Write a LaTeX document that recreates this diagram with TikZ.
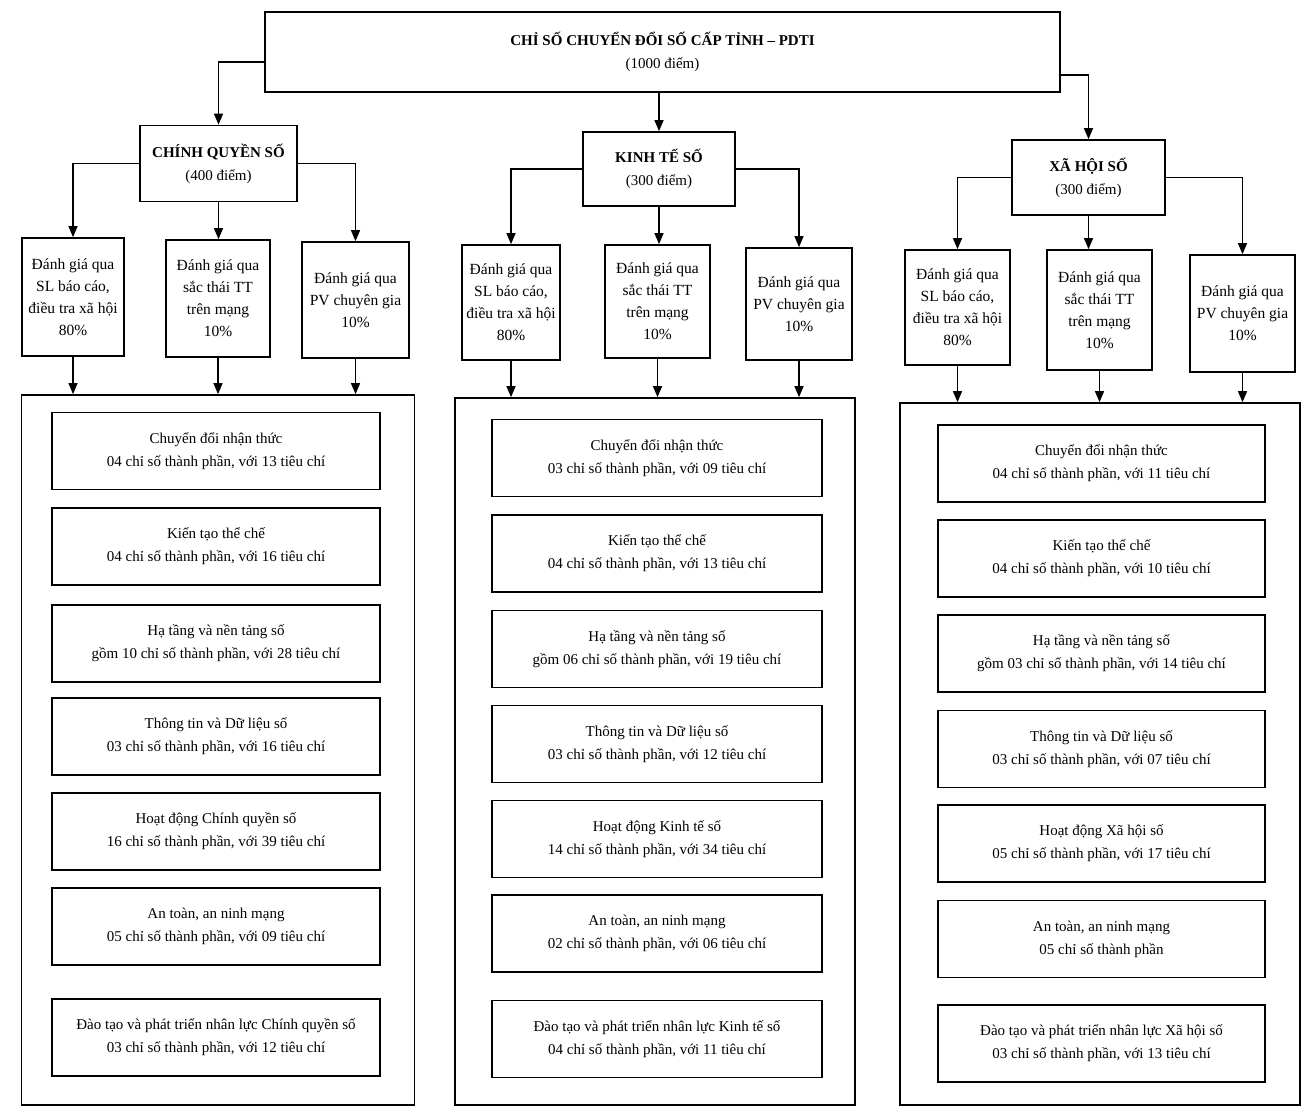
\documentclass[tikz,border=0pt]{standalone}
\usepackage{fontspec}
\setmainfont{Liberation Serif}
\usetikzlibrary{arrows.meta}
\tikzset{
  every node/.style={font=\fontsize{15}{23}\selectfont},
  frame/.style={draw=black, line width=1.7pt, inner sep=0pt, align=center},
  headbox/.style={frame, font=\fontsize{15}{23}\selectfont},
  subbox/.style={frame, font=\fontsize{15.5}{22}\selectfont},
  itembox/.style={frame, minimum height=77pt, font=\fontsize{15}{23}\selectfont},
  bigbox/.style={draw=black, line width=1.7pt, inner sep=0pt},
  arr/.style={draw=black, line width=1.3pt, -{Triangle[length=11pt,width=9pt]}}
}
\begin{document}
\begin{tikzpicture}[x=1pt,y=-1pt]
\useasboundingbox (0,0) rectangle (1308,1110);

% top
\node[headbox, minimum width=795pt, minimum height=80pt] (top) at (662.5,52)
  {\textbf{CHỈ SỐ CHUYỂN ĐỔI SỐ CẤP TỈNH – PDTI}\\(1000 điểm)};

% level 2
\node[headbox, minimum width=157pt, minimum height=76pt] (cq) at (218.5,163.5)
  {\textbf{CHÍNH QUYỀN SỐ}\\(400 điểm)};
\node[headbox, minimum width=152pt, minimum height=74pt] (kt) at (659,169)
  {\textbf{KINH TẾ SỐ}\\(300 điểm)};
\node[headbox, minimum width=153pt, minimum height=75pt] (xh) at (1088.5,177.5)
  {\textbf{XÃ HỘI SỐ}\\(300 điểm)};

% level 3
\node[subbox, minimum width=102pt, minimum height=118pt] (a1) at (73,297)
  {Đánh giá qua\\SL báo cáo,\\điều tra xã hội\\80\%};
\node[subbox, minimum width=104pt, minimum height=117pt] (a2) at (218,298.5)
  {Đánh giá qua\\sắc thái TT\\trên mạng\\10\%};
\node[subbox, minimum width=107pt, minimum height=116pt] (a3) at (355.5,300)
  {Đánh giá qua\\PV chuyên gia\\10\%};

\node[subbox, minimum width=98pt, minimum height=115pt] (b1) at (511,302.5)
  {Đánh giá qua\\SL báo cáo,\\điều tra xã hội\\80\%};
\node[subbox, minimum width=105pt, minimum height=113pt] (b2) at (657.5,301.5)
  {Đánh giá qua\\sắc thái TT\\trên mạng\\10\%};
\node[subbox, minimum width=106pt, minimum height=112pt] (b3) at (799,304)
  {Đánh giá qua\\PV chuyên gia\\10\%};

\node[subbox, minimum width=105pt, minimum height=115pt] (c1) at (957.5,307.5)
  {Đánh giá qua\\SL báo cáo,\\điều tra xã hội\\80\%};
\node[subbox, minimum width=105pt, minimum height=120pt] (c2) at (1099.5,310)
  {Đánh giá qua\\sắc thái TT\\trên mạng\\10\%};
\node[subbox, minimum width=105pt, minimum height=117pt] (c3) at (1242.5,313.5)
  {Đánh giá qua\\PV chuyên gia\\10\%};

% big containers
\node[bigbox, minimum width=393pt, minimum height=710pt] (A) at (218,750) {};
\node[bigbox, minimum width=400pt, minimum height=707pt] (B) at (655,751.5) {};
\node[bigbox, minimum width=400pt, minimum height=702pt] (C) at (1100,754) {};

% items A
\node[itembox, minimum width=328pt] (a11) at (216,451) {Chuyển đổi nhận thức\\04 chỉ số thành phần, với 13 tiêu chí};
\node[itembox, minimum width=328pt] (a12) at (216,546.5) {Kiến tạo thể chế\\04 chỉ số thành phần, với 16 tiêu chí};
\node[itembox, minimum width=328pt] (a13) at (216,643.5) {Hạ tầng và nền tảng số\\gồm 10 chỉ số thành phần, với 28 tiêu chí};
\node[itembox, minimum width=328pt] (a14) at (216,736.5) {Thông tin và Dữ liệu số\\03 chỉ số thành phần, với 16 tiêu chí};
\node[itembox, minimum width=328pt] (a15) at (216,831.5) {Hoạt động Chính quyền số\\16 chỉ số thành phần, với 39 tiêu chí};
\node[itembox, minimum width=328pt] (a16) at (216,926.5) {An toàn, an ninh mạng\\05 chỉ số thành phần, với 09 tiêu chí};
\node[itembox, minimum width=328pt] (a17) at (216,1037.5) {Đào tạo và phát triển nhân lực Chính quyền số\\03 chỉ số thành phần, với 12 tiêu chí};

% items B
\node[itembox, minimum width=330pt] (b11) at (657,458) {Chuyển đổi nhận thức\\03 chỉ số thành phần, với 09 tiêu chí};
\node[itembox, minimum width=330pt] (b12) at (657,553.5) {Kiến tạo thể chế\\04 chỉ số thành phần, với 13 tiêu chí};
\node[itembox, minimum width=330pt] (b13) at (657,649) {Hạ tầng và nền tảng số\\gồm 06 chỉ số thành phần, với 19 tiêu chí};
\node[itembox, minimum width=330pt] (b14) at (657,744) {Thông tin và Dữ liệu số\\03 chỉ số thành phần, với 12 tiêu chí};
\node[itembox, minimum width=330pt] (b15) at (657,839) {Hoạt động Kinh tế số\\14 chỉ số thành phần, với 34 tiêu chí};
\node[itembox, minimum width=330pt] (b16) at (657,933.5) {An toàn, an ninh mạng\\02 chỉ số thành phần, với 06 tiêu chí};
\node[itembox, minimum width=330pt] (b17) at (657,1039) {Đào tạo và phát triển nhân lực Kinh tế số\\04 chỉ số thành phần, với 11 tiêu chí};

% items C
\node[itembox, minimum width=327pt] (c11) at (1101.5,463.5) {Chuyển đổi nhận thức\\04 chỉ số thành phần, với 11 tiêu chí};
\node[itembox, minimum width=327pt] (c12) at (1101.5,558.5) {Kiến tạo thể chế\\04 chỉ số thành phần, với 10 tiêu chí};
\node[itembox, minimum width=327pt] (c13) at (1101.5,653.5) {Hạ tầng và nền tảng số\\gồm 03 chỉ số thành phần, với 14 tiêu chí};
\node[itembox, minimum width=327pt] (c14) at (1101.5,749) {Thông tin và Dữ liệu số\\03 chỉ số thành phần, với 07 tiêu chí};
\node[itembox, minimum width=327pt] (c15) at (1101.5,843.5) {Hoạt động Xã hội số\\05 chỉ số thành phần, với 17 tiêu chí};
\node[itembox, minimum width=327pt] (c16) at (1101.5,939) {An toàn, an ninh mạng\\05 chỉ số thành phần};
\node[itembox, minimum width=327pt] (c17) at (1101.5,1043.5) {Đào tạo và phát triển nhân lực Xã hội số\\03 chỉ số thành phần, với 13 tiêu chí};

% connectors level 1 -> 2
\draw[arr] ([yshift=-10pt]top.west) -| (cq.north);
\draw[arr] (kt.north |- top.south) -- (kt.north);
\draw[arr] ([yshift=-23pt]top.east) -| (xh.north);

% level 2 -> 3
\draw[arr] (cq.west) -| (a1.north);
\draw[arr] (cq.south) -- (cq.south |- a2.north);
\draw[arr] (cq.east) -| (a3.north);
\draw[arr] (kt.west) -| (b1.north);
\draw[arr] (kt.south) -- (kt.south |- b2.north);
\draw[arr] (kt.east) -| (b3.north);
\draw[arr] (xh.west) -| (c1.north);
\draw[arr] (xh.south) -- (xh.south |- c2.north);
\draw[arr] (xh.east) -| (c3.north);

% level 3 -> containers
\foreach \s/\t in {a1/A,a2/A,a3/A,b1/B,b2/B,b3/B,c1/C,c2/C,c3/C}{
  \draw[arr] (\s.south) -- (\s.south |- \t.north);
}
\end{tikzpicture}
\end{document}
